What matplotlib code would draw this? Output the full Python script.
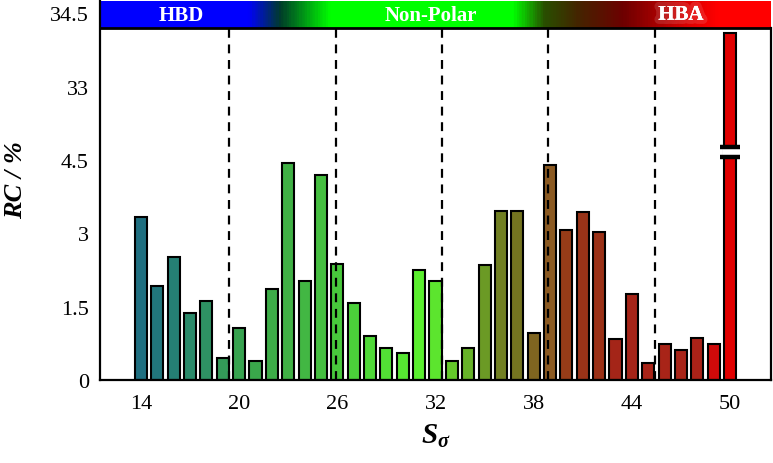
import numpy as np
import matplotlib
matplotlib.use('Agg')
import matplotlib.pyplot as plt
from matplotlib.colors import LinearSegmentedColormap
import matplotlib.patheffects as pe

plt.rcParams['font.family'] = 'Liberation Serif'
plt.rcParams['mathtext.fontset'] = 'custom'
plt.rcParams['mathtext.it'] = 'Liberation Serif:bold:italic'
plt.rcParams['mathtext.rm'] = 'Liberation Serif:bold'

# data
s_sigma = np.arange(14, 51)
rc = [3.33, 1.92, 2.51, 1.38, 1.62, 0.46, 1.07, 0.40, 1.87, 4.45,
      2.03, 4.19, 2.38, 1.58, 0.90, 0.67, 0.55, 2.25, 2.02, 0.40,
      0.67, 2.35, 3.45, 3.45, 0.96, 4.40, 3.07, 3.43, 3.04, 0.84,
      1.76, 0.36, 0.75, 0.62, 0.86, 0.75, 34.1]
bar_colors = ['#1f6f80', '#21767c', '#257f74', '#2a8a6a', '#2e9263', '#339a58',
              '#37a24f', '#3aa74b', '#3dac48', '#40b145', '#42b743', '#45be40',
              '#48c83c', '#4bd03a', '#4fd838', '#52e035', '#56e632', '#5aee2e',
              '#5ce52e', '#64c82a', '#67b228', '#6b9a25', '#717f22', '#747420',
              '#7f6520', '#8b5a22', '#963c18', '#993318', '#9a3016', '#a42518',
              '#a52418', '#a82418', '#a82418', '#a82418', '#aa2218', '#d00a0a',
              '#e00000']
region_bounds = [19.4, 25.9, 32.4, 38.9, 45.4]
region_names = ['HBD', 'Non-Polar', 'HBA']
region_text_x = [16.45, 31.7, 47.0]
ytick_vals = [0, 1.5, 3, 4.5, 33, 34.5]
xtick_vals = [14, 20, 26, 32, 38, 44, 50]


def to_pos(v):
    # broken axis: 4.5 .. 33 squeezed into one step
    v = np.asarray(v, dtype=float)
    return np.where(v <= 4.5, v, v - 27.0)


x_lo, x_hi = 11.5, 52.5
frame_top = 7.19
y_top = 7.75

fig = plt.figure(figsize=(7.73, 4.64), dpi=100)
ax = fig.add_axes([100 / 773, 1 - 381.3 / 464, 671 / 773, 379.3 / 464])

ax.bar(s_sigma, to_pos(rc), width=0.74, color=bar_colors, edgecolor='black',
       linewidth=1.5, zorder=2)

# break marks on the tall bar
bx = s_sigma[-1]
ax.fill_between([bx - 0.45, bx + 0.45], 4.6, 4.74, color='white', zorder=3)
ax.plot([bx - 0.6, bx + 0.6], [4.57, 4.57], color='black', lw=3.2, zorder=4,
        solid_capstyle='butt')
ax.plot([bx - 0.6, bx + 0.6], [4.77, 4.77], color='black', lw=3.2, zorder=4,
        solid_capstyle='butt')

for xb in region_bounds:
    ax.plot([xb, xb], [0, frame_top], color='black', lw=1.6, ls=(0, (4, 3)), zorder=5)

# colour band on top
cmap = LinearSegmentedColormap.from_list('band', [
    (0.0, (0, 0, 1)), (0.219, (0, 0, 1)), (0.268, (0, 0.24, 0.16)),
    (0.343, (0, 1, 0)), (0.616, (0, 1, 0)), (0.663, (0.16, 0.31, 0)),
    (0.715, (0.27, 0.14, 0)), (0.782, (0.43, 0, 0)), (0.879, (0.86, 0, 0)),
    (0.924, (1, 0, 0)), (1.0, (1, 0, 0))])
grad = np.linspace(0, 1, 600).reshape(1, -1)
ax.imshow(grad, cmap=cmap, aspect='auto', extent=[x_lo, x_hi, frame_top, y_top],
          zorder=1)
for name, tx in zip(region_names, region_text_x):
    t = ax.text(tx, (frame_top + y_top) / 2, name, color='white', fontsize=15,
                fontweight='bold', ha='center', va='center', zorder=6)
    if name == 'HBA':
        t.set_path_effects([pe.withStroke(linewidth=6, foreground=(1, 1, 1, 0.12)),
                            pe.Normal()])
ax.plot([x_lo, x_hi], [frame_top, frame_top], color='black', lw=2, zorder=6)

ax.set_xlim(x_lo, x_hi)
ax.set_ylim(0, y_top)
ax.spines['top'].set_visible(False)
ax.spines['right'].set_bounds(0, frame_top)
for sp in ['left', 'bottom', 'right']:
    ax.spines[sp].set_linewidth(1.6)

ax.set_yticks(to_pos(ytick_vals))
ax.set_yticklabels(['0', '1.5', '3', '4.5', '33', '34.5'])
ax.set_xticks(xtick_vals)
ax.tick_params(axis='both', length=0, labelsize=16)
ax.tick_params(axis='x', pad=10)
ax.tick_params(axis='y', pad=8)

ax.set_xlabel(r'$S_{\sigma}$', fontsize=21, labelpad=6)
ax.set_ylabel('RC / %', fontsize=19, fontweight='bold', fontstyle='italic')
ax.yaxis.set_label_coords(-0.108, 0.531)

fig.savefig('out.png', dpi=100)
